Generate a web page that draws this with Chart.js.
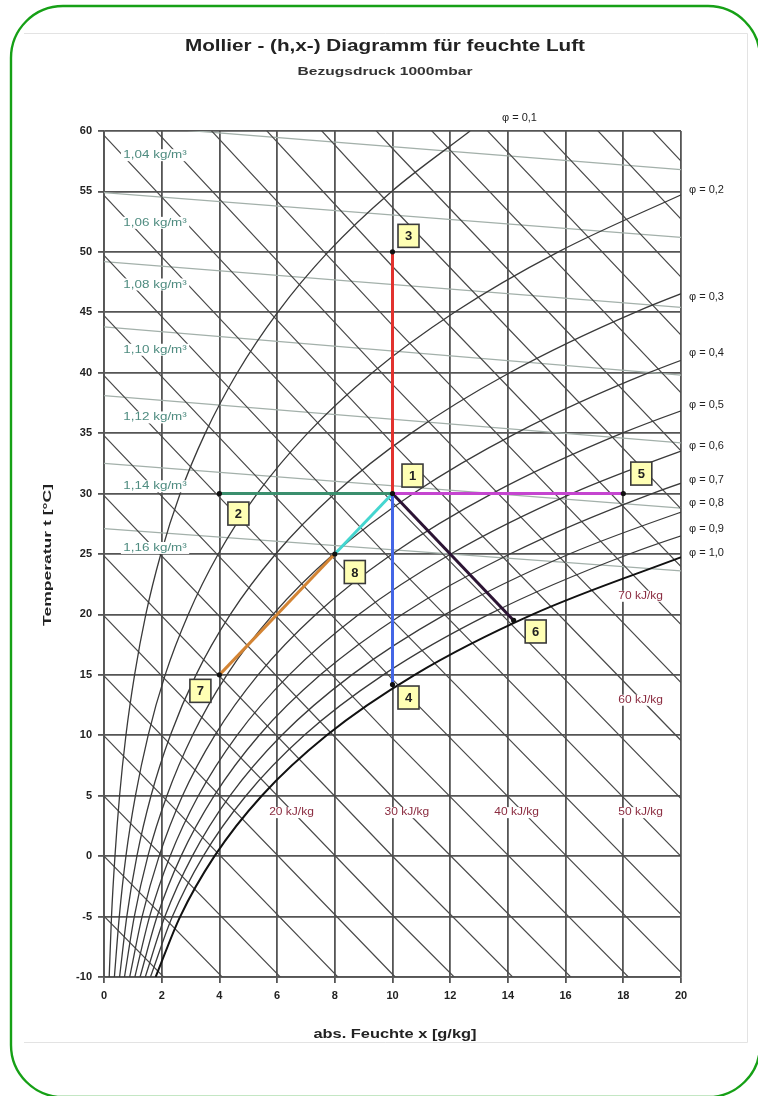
<!DOCTYPE html>
<html>
<head>
<meta charset="utf-8">
<title>Mollier h,x-Diagramm</title>
<script src="https://cdn.jsdelivr.net/npm/chart.js@4.4.1/dist/chart.umd.min.js"></script>
<style>
  html, body { margin: 0; padding: 0; background: #fff; }
  #wrap { width: 758px; height: 1096px; position: relative; }
</style>
</head>
<body>
<div id="wrap"><canvas id="mollier" width="758" height="1096"></canvas></div>
<script>
// temperature steps used by the phi curves (°C)
const tempSteps = [-10, -5, 0, 5, 10, 15, 20, 25, 30, 35, 40, 45, 50, 55, 60];

// abs. humidity x [g/kg] on each phi curve, one value per temperature step
const xPhi01 = [0.18, 0.26, 0.38, 0.54, 0.76, 1.06, 1.45, 1.97, 2.64, 3.51, 4.62, 6.02, 7.77, 9.97, 12.69];
const xPhi02 = [0.36, 0.53, 0.76, 1.09, 1.53, 2.12, 2.92, 3.96, 5.31, 7.06, 9.30, 12.15, 15.75, 20.26];
const xPhi03 = [0.54, 0.79, 1.14, 1.63, 2.30, 3.19, 4.38, 5.95, 8.00, 10.65, 14.06, 18.41, 23.92];
const xPhi04 = [0.71, 1.05, 1.52, 2.18, 3.07, 4.26, 5.86, 7.96, 10.72, 14.29, 18.89, 24.78];
const xPhi05 = [0.89, 1.32, 1.91, 2.72, 3.84, 5.34, 7.34, 9.99, 13.45, 17.96, 23.79];
const xPhi06 = [1.07, 1.58, 2.29, 3.27, 4.61, 6.42, 8.83, 12.02, 16.21, 21.68];
const xPhi07 = [1.25, 1.84, 2.67, 3.82, 5.38, 7.50, 10.33, 14.07, 19.00, 25.44];
const xPhi08 = [1.43, 2.11, 3.06, 4.37, 6.16, 8.59, 11.83, 16.13, 21.81];
const xPhi09 = [1.61, 2.37, 3.44, 4.92, 6.94, 9.68, 13.34, 18.21, 24.64];
const xPhi10 = [1.79, 2.64, 3.83, 5.47, 7.72, 10.77, 14.86, 20.30];
const phiLabels = ['φ = 0,1', 'φ = 0,2', 'φ = 0,3', 'φ = 0,4', 'φ = 0,5', 'φ = 0,6', 'φ = 0,7', 'φ = 0,8', 'φ = 0,9', 'φ = 1,0'];

// enthalpy lines every 5 kJ/kg: temperature at x = 0, 10 and 20 g/kg
const hLevels = [-10, -5, 0, 5, 10, 15, 20, 25, 30, 35, 40, 45, 50, 55, 60, 65, 70, 75, 80, 85, 90, 95, 100, 105, 110];
const hT0  = [-9.94, -4.97, 0, 4.97, 9.94, 14.91, 19.88, 24.85, 29.82, 34.79, 39.76, 44.73, 49.70, 54.67, 59.64, 64.61, 69.58, 74.55, 79.52, 84.49, 89.46, 94.43, 99.40, 104.37, 109.34];
const hT10 = [-34.17, -29.29, -24.41, -19.53, -14.65, -9.77, -4.89, -0.01, 4.87, 9.75, 14.63, 19.51, 24.39, 29.27, 34.15, 39.03, 43.91, 48.79, 53.67, 58.55, 63.43, 68.31, 73.19, 78.07, 82.95];
const hT20 = [-57.54, -52.74, -47.95, -43.16, -38.37, -33.57, -28.78, -23.99, -19.19, -14.40, -9.61, -4.81, -0.02, 4.77, 9.57, 14.36, 19.15, 23.95, 28.74, 33.53, 38.33, 43.12, 47.91, 52.71, 57.50];

// density lines: temperature at x = 0 and x = 20 g/kg
const rhoLabels = ['1,04 kg/m³', '1,06 kg/m³', '1,08 kg/m³', '1,10 kg/m³', '1,12 kg/m³', '1,14 kg/m³', '1,16 kg/m³'];
const rhoT0  = [60.6, 54.9, 49.2, 43.8, 38.1, 32.5, 27.1];
const rhoT20 = [56.8, 51.2, 45.4, 39.8, 34.2, 28.8, 23.6];

// state points of the example processes
const pointNames = ['1', '2', '3', '4', '5', '6', '7', '8'];
const pointX = [10, 4, 10, 10, 18, 14.2, 4, 8];
const pointT = [30, 30, 50, 14.2, 30, 19.5, 15, 25];
const processFrom = ['2', '1', '1', '1', '1', '8', '7'];
const processTo   = ['1', '3', '5', '4', '6', '1', '8'];

// axis ticks
const xTicks = [0, 2, 4, 6, 8, 10, 12, 14, 16, 18, 20];
const yTicks = [-10, -5, 0, 5, 10, 15, 20, 25, 30, 35, 40, 45, 50, 55, 60];

// ---- styles / label placement (kept apart from the data) ----
const processColors = ['#3b8f6e', '#e2322e', '#c545d0', '#4466e6', '#2c1434', '#45d6d0', '#d38434'];
const boxOffsets = [[20, -18], [19, 20], [16, -16], [16, 13], [18, -20], [22, 11], [-19, 16], [20, 18]];
const rhoLabelPos = [[1.77, 58.0], [1.77, 52.4], [1.77, 47.3], [1.77, 41.9], [1.77, 36.3], [1.77, 30.6], [1.77, 25.5]];
const hLabelPos = [['20 kJ/kg', 6.5, 3.6], ['30 kJ/kg', 10.5, 3.6], ['40 kJ/kg', 14.3, 3.6], ['50 kJ/kg', 18.6, 3.6], ['60 kJ/kg', 18.6, 12.9], ['70 kJ/kg', 18.6, 21.5]];
const phiLabelT = [61.1, 55.1, 46.3, 41.6, 37.3, 33.9, 31.1, 29.2, 27.1, 25.1];
const FONT = '"Liberation Sans", Arial, sans-serif';

function curve(xs) {
  return xs.map((x, i) => ({ x: x, y: tempSteps[i] }));
}
function idx(name) {
  return pointNames.indexOf(name);
}

const datasets = [];

// point markers on top
datasets.push({
  data: pointX.map((x, i) => ({ x: x, y: pointT[i] })),
  showLine: false,
  pointRadius: 2.6,
  pointBackgroundColor: '#111',
  pointBorderWidth: 0,
  order: 0
});

processFrom.forEach((from, i) => {
  const a = idx(from), b = idx(processTo[i]);
  datasets.push({
    data: [{ x: pointX[a], y: pointT[a] }, { x: pointX[b], y: pointT[b] }],
    showLine: true,
    borderColor: processColors[i],
    borderWidth: 3,
    pointRadius: 0,
    order: 1
  });
});

[xPhi01, xPhi02, xPhi03, xPhi04, xPhi05, xPhi06, xPhi07, xPhi08, xPhi09, xPhi10].forEach((xs, i) => {
  datasets.push({
    data: curve(xs),
    showLine: true,
    borderColor: i === 9 ? '#111' : '#3a3a3a',
    borderWidth: i === 9 ? 2 : 1.3,
    pointRadius: 0,
    cubicInterpolationMode: 'monotone',
    order: 2
  });
});

hLevels.forEach((h, i) => {
  datasets.push({
    data: [{ x: 0, y: hT0[i] }, { x: 10, y: hT10[i] }, { x: 20, y: hT20[i] }],
    showLine: true,
    borderColor: '#4a4a4a',
    borderWidth: 1.2,
    pointRadius: 0,
    order: 3
  });
});

rhoLabels.forEach((r, i) => {
  datasets.push({
    data: [{ x: 0, y: rhoT0[i] }, { x: 20, y: rhoT20[i] }],
    showLine: true,
    borderColor: '#a3b0aa',
    borderWidth: 1.3,
    pointRadius: 0,
    order: 4
  });
});

// draw a text, optionally stretched horizontally and on a white patch
function drawText(ctx, text, x, y, opt) {
  ctx.save();
  ctx.font = opt.font;
  const w = ctx.measureText(text).width;
  const sx = opt.width ? opt.width / w : (opt.sx || 1);
  ctx.translate(x, y);
  if (opt.rotate) ctx.rotate(opt.rotate);
  ctx.scale(sx, 1);
  ctx.textAlign = opt.align || 'center';
  ctx.textBaseline = 'middle';
  if (opt.bg) {
    const left = ctx.textAlign === 'left' ? 0 : -w / 2;
    ctx.fillStyle = opt.bg;
    ctx.fillRect(left - 2, -opt.h / 2, w + 4, opt.h);
  }
  ctx.fillStyle = opt.color || '#222';
  ctx.fillText(text, 0, 0);
  ctx.restore();
}

const overlay = {
  id: 'overlay',
  beforeDraw(chart) {
    const ctx = chart.ctx;
    ctx.save();
    ctx.fillStyle = '#fff';
    ctx.fillRect(0, 0, chart.width, chart.height);
    // faint frame of the original picture
    ctx.strokeStyle = '#e3e3e3';
    ctx.lineWidth = 1;
    ctx.beginPath();
    ctx.moveTo(24, 33.5); ctx.lineTo(747.5, 33.5); ctx.lineTo(747.5, 1042.5); ctx.lineTo(24, 1042.5);
    ctx.stroke();
    // green rounded border
    const l = 11, t = 6, r = 760, b = 1097, rad = 52;
    ctx.strokeStyle = '#16a016';
    ctx.lineWidth = 2.4;
    ctx.beginPath();
    ctx.moveTo(l + rad, t);
    ctx.lineTo(r - rad, t);
    ctx.arcTo(r, t, r, t + rad, rad);
    ctx.lineTo(r, b - rad);
    ctx.arcTo(r, b, r - rad, b, rad);
    ctx.lineTo(l + rad, b);
    ctx.arcTo(l, b, l, b - rad, rad);
    ctx.lineTo(l, t + rad);
    ctx.arcTo(l, t, l + rad, t, rad);
    ctx.closePath();
    ctx.stroke();
    ctx.restore();
  },
  afterDatasetsDraw(chart) {
    const ctx = chart.ctx;
    const sx = chart.scales.x, sy = chart.scales.y;
    const area = chart.chartArea;

    // density labels
    rhoLabelPos.forEach((p, i) => {
      drawText(ctx, rhoLabels[i], sx.getPixelForValue(p[0]), sy.getPixelForValue(p[1]),
        { font: '11px ' + FONT, color: '#4f8c80', sx: 1.22, bg: '#fff', h: 12 });
    });

    // enthalpy labels
    hLabelPos.forEach((p) => {
      drawText(ctx, p[0], sx.getPixelForValue(p[1]), sy.getPixelForValue(p[2]),
        { font: '10px ' + FONT, color: '#8b2c40', sx: 1.2, bg: '#fff', h: 11 });
    });

    // phi labels
    phiLabels.forEach((lab, i) => {
      if (i === 0) {
        drawText(ctx, lab, sx.getPixelForValue(14.4), sy.getPixelForValue(phiLabelT[i]),
          { font: '11px ' + FONT, color: '#222' });
      } else {
        drawText(ctx, lab, area.right + 8, sy.getPixelForValue(phiLabelT[i]),
          { font: '11px ' + FONT, color: '#222', align: 'left' });
      }
    });

    // numbered boxes
    pointNames.forEach((name, i) => {
      const cx = sx.getPixelForValue(pointX[i]) + boxOffsets[i][0];
      const cy = sy.getPixelForValue(pointT[i]) + boxOffsets[i][1];
      ctx.save();
      ctx.fillStyle = '#ffffb4';
      ctx.strokeStyle = '#3a3a3a';
      ctx.lineWidth = 1.6;
      ctx.fillRect(cx - 10.5, cy - 11.5, 21, 23);
      ctx.strokeRect(cx - 10.5, cy - 11.5, 21, 23);
      ctx.restore();
      drawText(ctx, name, cx, cy + 1, { font: 'bold 13px ' + FONT, color: '#222' });
    });
  },
  afterDraw(chart) {
    const ctx = chart.ctx;
    drawText(ctx, 'Mollier - (h,x-) Diagramm für feuchte Luft', 385, 47,
      { font: 'bold 16px ' + FONT, color: '#222', width: 400 });
    drawText(ctx, 'Bezugsdruck 1000mbar', 385, 72,
      { font: 'bold 10px ' + FONT, color: '#333', width: 175 });
    drawText(ctx, 'abs. Feuchte x [g/kg]', 395, 1035,
      { font: 'bold 12px ' + FONT, color: '#222', width: 163 });
    drawText(ctx, 'Temperatur t [°C]', 48, 555,
      { font: 'bold 11px ' + FONT, color: '#222', width: 142, rotate: -Math.PI / 2 });
  }
};

const gridStyle = { color: '#555', lineWidth: 1.8, tickLength: 6, tickColor: '#555' };

new Chart(document.getElementById('mollier').getContext('2d'), {
  type: 'scatter',
  data: { datasets: datasets },
  options: {
    responsive: false,
    animation: false,
    layout: { padding: { left: 20, right: 77, top: 131, bottom: 30 } },
    plugins: {
      legend: { display: false },
      tooltip: { enabled: false }
    },
    scales: {
      x: {
        type: 'linear',
        min: xTicks[0],
        max: xTicks[xTicks.length - 1],
        afterBuildTicks: (s) => { s.ticks = xTicks.map(v => ({ value: v })); },
        afterFit: (s) => { s.height = 89; },
        grid: gridStyle,
        border: { color: '#555', width: 1.8 },
        ticks: { color: '#222', padding: 6, font: { family: FONT, size: 11, weight: 'bold' } }
      },
      y: {
        type: 'linear',
        min: yTicks[0],
        max: yTicks[yTicks.length - 1],
        afterBuildTicks: (s) => { s.ticks = yTicks.map(v => ({ value: v })); },
        afterFit: (s) => { s.width = 84; },
        grid: gridStyle,
        border: { color: '#555', width: 1.8 },
        ticks: { color: '#222', padding: 6, font: { family: FONT, size: 11, weight: 'bold' } }
      }
    }
  },
  plugins: [overlay]
});
</script>
</body>
</html>
